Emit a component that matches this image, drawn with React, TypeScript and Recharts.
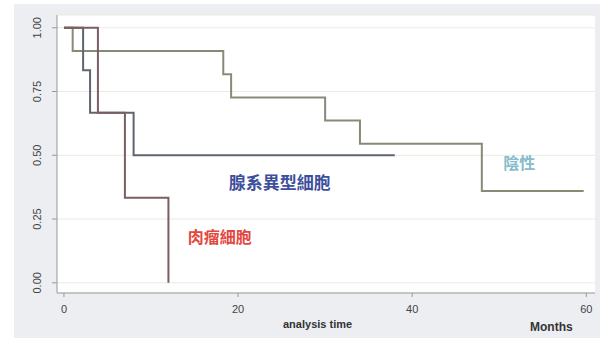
import React from "react";
import {
  LineChart,
  Line,
  XAxis,
  YAxis,
  CartesianGrid,
  ReferenceDot,
} from "recharts";

// Kaplan-Meier style survival estimates
const negativeTime = [0, 1, 18.3, 19.2, 30, 34, 48, 59.7];
const negativeSurv = [1, 0.909, 0.818, 0.727, 0.636, 0.545, 0.36, 0.36];

const glandTime = [0, 2.2, 3, 8, 38];
const glandSurv = [1, 0.833, 0.667, 0.5, 0.5];

const sarcomaTime = [0, 3.9, 7, 12];
const sarcomaSurv = [1, 0.667, 0.333, 0];

const xTicks = [0, 20, 40, 60];
const yTicks = [0, 0.25, 0.5, 0.75, 1];

const toRows = (t: number[], s: number[]) => t.map((x, i) => ({ t: x, s: s[i] }));

const negativeData = toRows(negativeTime, negativeSurv);
const glandData = toRows(glandTime, glandSurv);
const sarcomaData = toRows(sarcomaTime, sarcomaSurv);

const cjk = '"Noto Sans CJK TC", "Noto Sans CJK SC", sans-serif';

const YTick = (props: any) => {
  const { x, y, payload } = props;
  const cx = x - 9;
  return (
    <text
      x={cx}
      y={y}
      transform={`rotate(-90, ${cx}, ${y})`}
      textAnchor="middle"
      fontSize={11}
      fill="#444"
      fontFamily="Arial, sans-serif"
    >
      {payload.value.toFixed(2)}
    </text>
  );
};

export default function App() {
  return (
    <div
      style={{
        position: "absolute",
        left: 0,
        top: 0,
        width: 609,
        height: 338,
        background: "#fff",
      }}
    >
      <div
        style={{
          position: "absolute",
          left: 14,
          top: 4,
          width: 586,
          height: 334,
          background: "#eceef2",
        }}
      />
      <div style={{ position: "absolute", left: 0, top: 0 }}>
        <LineChart
          width={609}
          height={338}
          margin={{ top: 15, right: 14, bottom: 15, left: 17 }}
        >
          <CartesianGrid vertical={false} fill="#ffffff" stroke="#ebebe2" />
          <XAxis
            type="number"
            dataKey="t"
            domain={[-0.8, 61]}
            ticks={xTicks}
            allowDataOverflow
            height={30}
            stroke="#999"
            tickSize={4}
            tickMargin={8}
            tick={{ fontSize: 11, fill: "#444", fontFamily: "Arial, sans-serif" }}
          />
          <YAxis
            type="number"
            dataKey="s"
            domain={[-0.04, 1.05]}
            ticks={yTicks}
            allowDataOverflow
            width={40}
            stroke="#999"
            tickSize={5}
            tick={<YTick />}
          />
          <Line
            data={negativeData}
            dataKey="s"
            type="stepAfter"
            stroke="#858c76"
            strokeWidth={2}
            dot={false}
            isAnimationActive={false}
          />
          <Line
            data={glandData}
            dataKey="s"
            type="stepAfter"
            stroke="#5e6470"
            strokeWidth={2}
            dot={false}
            isAnimationActive={false}
          />
          <Line
            data={sarcomaData}
            dataKey="s"
            type="stepAfter"
            stroke="#7a5e60"
            strokeWidth={2}
            dot={false}
            isAnimationActive={false}
          />
          <ReferenceDot
            x={24.8}
            y={0.39}
            r={0}
            label={{
              value: "腺系異型細胞",
              position: "center",
              fill: "#3d4f9c",
              fontSize: 17,
              fontWeight: 600,
              fontFamily: cjk,
            }}
          />
          <ReferenceDot
            x={17.9}
            y={0.18}
            r={0}
            label={{
              value: "肉瘤細胞",
              position: "center",
              fill: "#e2473f",
              fontSize: 16,
              fontWeight: 600,
              fontFamily: cjk,
            }}
          />
          <ReferenceDot
            x={52.3}
            y={0.47}
            r={0}
            label={{
              value: "陰性",
              position: "center",
              fill: "#86bccb",
              fontSize: 16,
              fontWeight: 600,
              fontFamily: cjk,
            }}
          />
        </LineChart>
      </div>
      <div
        style={{
          position: "absolute",
          left: 283,
          top: 318,
          fontSize: 11,
          fontWeight: "bold",
          color: "#333",
          fontFamily: "Arial, sans-serif",
        }}
      >
        analysis time
      </div>
      <div
        style={{
          position: "absolute",
          left: 530,
          top: 320,
          fontSize: 12,
          fontWeight: "bold",
          color: "#333",
          fontFamily: "Arial, sans-serif",
        }}
      >
        Months
      </div>
    </div>
  );
}
